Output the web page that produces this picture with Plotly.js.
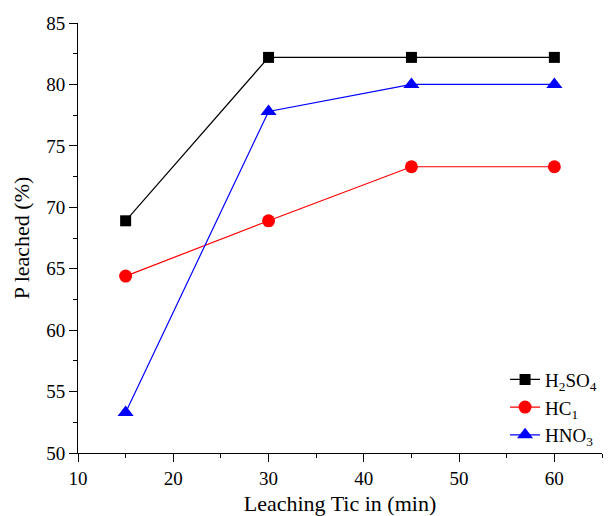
<!DOCTYPE html>
<html><head><meta charset="utf-8">
<script src="https://cdn.plot.ly/plotly-3.0.1.min.js"></script>
<style>body{margin:0;background:#fff}#chart{width:608px;height:516px}</style>
</head><body><div id="chart"></div>
<script>
const times = [15, 30, 45, 60];
const h2so4 = [68.9, 82.2, 82.2, 82.2];
const hcl = [64.4, 68.9, 73.3, 73.3];
const hno3 = [53.3, 77.8, 80.0, 80.0];
const seriesNames = ['H<sub>2</sub>SO<sub>4</sub>', 'HC<sub>1</sub>', 'HNO<sub>3</sub>'];
const xTicks = [10, 20, 30, 40, 50, 60];
const yTicks = [50, 55, 60, 65, 70, 75, 80, 85];

const font = 'Liberation Serif, Times New Roman, serif';
function tr(y, name, color, symbol, size) {
  return {x: times, y: y, name: name, type: 'scatter', mode: 'lines+markers',
    line: {color: color, width: 1.2},
    marker: {color: color, symbol: symbol, size: size}};
}
const data = [
  tr(h2so4, seriesNames[0], '#000000', 'square', 11),
  tr(hcl, seriesNames[1], '#ff0000', 'circle', 13),
  tr(hno3, seriesNames[2], '#0000ff', 'triangle-up', 14)
];
const axisCommon = {
  showgrid: false, zeroline: false, showline: true, linecolor: '#000', linewidth: 1,
  ticks: 'outside', ticklen: 8, tickwidth: 1, tickcolor: '#000',
  tickfont: {family: font, size: 19, color: '#000'},
  minor: {ticks: 'outside', ticklen: 4, tickwidth: 1, tickcolor: '#000'}
};
const layout = {
  width: 608, height: 516,
  margin: {l: 78, r: 6, t: 23, b: 63},
  paper_bgcolor: '#fff', plot_bgcolor: '#fff',
  showlegend: true,
  legend: {x: 0.815, xanchor: 'left', y: 0.215, yanchor: 'top', bgcolor: 'rgba(0,0,0,0)',
    font: {family: font, size: 19, color: '#000'}, tracegroupgap: 0},
  xaxis: Object.assign({}, axisCommon, {range: [10, 65], tickvals: xTicks, ticktext: xTicks.map(String),
    minor: Object.assign({}, axisCommon.minor, {dtick: 5, tick0: 5}),
    title: {text: 'Leaching Tic in (min)', font: {family: font, size: 22, color: '#000'}, standoff: 8}}),
  yaxis: Object.assign({}, axisCommon, {range: [50, 85], tickvals: yTicks, ticktext: yTicks.map(String),
    minor: Object.assign({}, axisCommon.minor, {dtick: 2.5, tick0: 50}),
    title: {text: 'P leached (%)', font: {family: font, size: 22, color: '#000'}, standoff: 10}})
};
Plotly.newPlot('chart', data, layout, {displayModeBar: false, staticPlot: true});
</script></body></html>
